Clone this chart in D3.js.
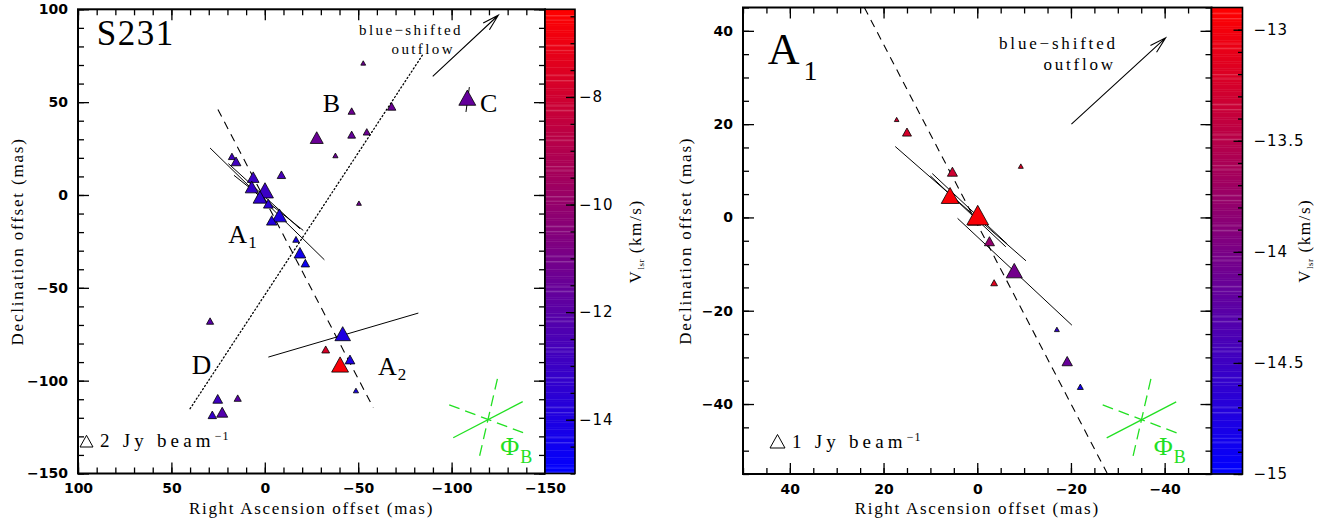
<!DOCTYPE html>
<html>
<head>
<meta charset="utf-8">
<script src="https://cdn.jsdelivr.net/npm/d3@7"></script>
<style>
  body { margin: 0; background: #fff; }
  svg { display: block; }
</style>
</head>
<body>
<svg id="chart" width="1337" height="526"></svg>
<script>
// ---------- S231 field: maser spots (offsets in mas, Vlsr in km/s, peak flux in Jy/beam) ----------
const s231Ra   = [-27.8,-37.8,17.6,15.4,-8.9,6.2,7.0,-0.1,2.6,-1.9,-7.8,-3.7,-16.7,-18.8,-21.7,-46.5,-54.6,-50.4,-52.7,-46.5,-67.9,-108.4,29.3,-41.7,-32.6,-40.3,-45.6,-48.8,25.2,14.5,28.1,22.8];
const s231Dec  = [30.9,21.3,20.8,18.1,10.9,9.6,4.3,2.5,-1.1,-4.7,-11.0,-13.7,-23.9,-31.1,-36.7,32.5,34.0,-4.4,71.1,45.2,47.7,52.4,-67.9,-74.7,-83.2,-91.3,-88.6,-105.3,-109.8,-109.4,-118.4,-117.0];
const s231Vel  = [-11.4,-11.4,-12.8,-12.8,-12.6,-13.0,-13.2,-13.0,-13.4,-13.6,-14.0,-13.8,-14.3,-14.4,-14.6,-11.6,-11.3,-11.2,-11.3,-11.3,-11.4,-11.6,-12.0,-14.0,-7.7,-6.6,-14.0,-14.2,-12.9,-12.0,-13.2,-12.2];
const s231Flux = [2.0,0.8,1.1,1.5,1.3,1.8,2.0,2.6,2.1,1.5,2.2,1.6,1.0,1.8,1.3,1.2,1.1,0.75,0.75,1.1,1.3,2.6,1.1,2.4,1.2,2.6,1.5,0.8,1.5,1.1,1.3,1.7];

// fitted lines and guides in the S231 field ([ra, dec] end points)
const s231Dashed = [[25.1, 46.1], [-58.1, -114.6]];
const s231Dotted = [[40.0, -115.1], [-84.9, 76.1]];
const s231Fits = [
  [[29.3, 25.3], [-31.9, -34.9]],
  [[19.5, 16.9], [-18.8, -18.2]],
  [[16.5, 10.6], [-20.6, -19.1]],
  [[-1.9, -87.3], [-82.2, -63.6]],
  [[-109.5, 58.1], [-107.7, 44.7]]
];
const s231Arrow = [[-89.9, 63.9], [-125.0, 96.8]];
const s231Beam  = [-119.6, -120.8];

// ---------- A1 close-up ----------
const a1Ra   = [17.2,15.0,5.3,-9.3,5.8,0.6,-0.1,-2.6,-7.9,-3.6,-17.0,-19.2,-22.0];
const a1Dec  = [21.0,18.3,9.8,11.0,4.7,-0.4,0.5,-5.1,-11.4,-14.0,-24.0,-30.8,-36.3];
const a1Vel  = [-13.3,-13.25,-13.3,-13.2,-12.95,-13.0,-12.95,-13.8,-14.05,-13.15,-14.6,-14.15,-14.85];
const a1Flux = [0.31,0.6,0.67,0.33,1.18,0.87,1.45,0.67,1.07,0.45,0.33,0.69,0.4];

const a1Dashed = [[24.1, 45.0], [-27.7, -54.8]];
const a1Fits = [
  [[17.5, 15.2], [-10.4, -9.3]],
  [[10.0, 8.9], [-6.1, -6.3]],
  [[9.6, 9.4], [-6.4, -5.7]],
  [[4.2, -0.2], [-20.2, -23.1]]
];
const a1Arrow = [[-20.1, 20.0], [-40.2, 38.5]];
const a1Beam  = [-35.1, -43.3];

// ---------- tick values ----------
const s231Ticks   = [100, 50, 0, -50, -100, -150];
const a1Ticks     = [40, 20, 0, -20, -40];
const s231CbTicks = [-8, -10, -12, -14];
const a1CbTicks   = [-13, -13.5, -14, -14.5, -15];

// ---------- drawing ----------
const svg = d3.select("#chart");
const defs = svg.append("defs");
const SERIF = "'Liberation Serif','Times New Roman',serif";
const SANS = "'DejaVu Sans',sans-serif";
const GREEN = "#22e022";
const fmt = d3.format("");

function drawPanel(o) {
  const { id, x, y, v, col, size } = o;
  const [px0, px1] = x.range(), [py0, py1] = y.range();

  defs.append("clipPath").attr("id", "clip-" + id)
    .append("rect").attr("x", px0).attr("y", py0).attr("width", px1 - px0).attr("height", py1 - py0);
  const plot = svg.append("g").attr("clip-path", `url(#clip-${id})`);

  const seg = (s, dash, w) => plot.append("line")
    .attr("x1", x(s[0][0])).attr("y1", y(s[0][1]))
    .attr("x2", x(s[1][0])).attr("y2", y(s[1][1]))
    .attr("stroke", "#000").attr("stroke-width", w || 1)
    .attr("stroke-dasharray", dash || null);

  if (o.dotted) seg(o.dotted, "1.2,2.6", 1.3).attr("stroke-linecap", "round");
  seg(o.dashed, "8,6", 1.1);
  o.fits.forEach(f => seg(f, null, 1));

  // maser spots: filled triangles coloured by velocity, sized by flux
  plot.selectAll("path.spot").data(d3.range(o.ra.length)).join("path")
    .attr("class", "spot")
    .attr("d", i => {
      const w = size(o.flux[i]), h = 0.9 * w, cx = x(o.ra[i]), cy = y(o.dec[i]);
      return `M${cx},${cy - h / 2}L${cx + w / 2},${cy + h / 2}L${cx - w / 2},${cy + h / 2}Z`;
    })
    .attr("fill", i => col(o.vel[i]))
    .attr("stroke", "#000").attr("stroke-width", 0.8).attr("stroke-linejoin", "miter");

  // outflow arrow
  {
    const x1 = x(o.arrow[0][0]), y1 = y(o.arrow[0][1]);
    const x2 = x(o.arrow[1][0]), y2 = y(o.arrow[1][1]);
    const a = Math.atan2(y2 - y1, x2 - x1), L = 17, s = 0.27;
    plot.append("path")
      .attr("d", `M${x1},${y1}L${x2},${y2}M${x2 - L * Math.cos(a - s)},${y2 - L * Math.sin(a - s)}L${x2},${y2}L${x2 - L * Math.cos(a + s)},${y2 - L * Math.sin(a + s)}`)
      .attr("fill", "none").attr("stroke", "#000").attr("stroke-width", 1.1);
  }

  // magnetic field direction symbol
  {
    const cx = x(o.beam[0]), cy = y(o.beam[1]);
    const gb = plot.append("g").attr("stroke", GREEN).attr("stroke-width", 1.3).attr("fill", "none");
    gb.append("line").attr("x1", cx - 35).attr("y1", cy + 18.5).attr("x2", cx + 34.5).attr("y2", cy - 17.6);
    gb.append("line").attr("x1", cx - 39).attr("y1", cy - 14.5).attr("x2", cx + 39).attr("y2", cy + 15)
      .attr("stroke-dasharray", "11,6");
    gb.append("line").attr("x1", cx + 9.2).attr("y1", cy - 40.5).attr("x2", cx - 9.5).attr("y2", cy + 40.5)
      .attr("stroke-dasharray", "11,6");
    const t = svg.append("text").attr("x", cx + 12).attr("y", cy + 36)
      .attr("font-family", SERIF).attr("font-size", 26).attr("fill", GREEN).text("\u03A6");
    t.append("tspan").attr("dy", 8).attr("dx", 1).attr("font-size", 18).text("B");
  }

  // frame, ticks inside on all four sides
  const axisG = svg.append("g");
  const put = (axis, tr) => {
    const a = axisG.append("g").attr("transform", tr).call(axis);
    a.select(".domain").remove();
    a.selectAll("line").attr("stroke", "#000").attr("stroke-width", 1.3);
    a.selectAll("text").attr("font-family", SANS).attr("font-weight", "bold")
      .attr("font-size", 14).attr("fill", "#000");
    return a;
  };
  put(d3.axisBottom(x).tickValues(o.ticks).tickSize(-11).tickPadding(10).tickFormat(fmt), `translate(0,${py1})`);
  put(d3.axisBottom(x).tickValues(o.xMinor).tickSize(-6).tickFormat(""), `translate(0,${py1})`);
  put(d3.axisTop(x).tickValues(o.ticks).tickSize(-11).tickFormat(""), `translate(0,${py0})`);
  put(d3.axisTop(x).tickValues(o.xMinor).tickSize(-6).tickFormat(""), `translate(0,${py0})`);
  put(d3.axisLeft(y).tickValues(o.ticks).tickSize(-11).tickPadding(10).tickFormat(fmt), `translate(${px0},0)`);
  put(d3.axisLeft(y).tickValues(o.yMinor).tickSize(-6).tickFormat(""), `translate(${px0},0)`);
  put(d3.axisRight(y).tickValues(o.ticks).tickSize(-11).tickFormat(""), `translate(${px1},0)`);
  put(d3.axisRight(y).tickValues(o.yMinor).tickSize(-6).tickFormat(""), `translate(${px1},0)`);
  axisG.append("rect").attr("x", px0).attr("y", py0).attr("width", px1 - px0).attr("height", py1 - py0)
    .attr("fill", "none").attr("stroke", "#000").attr("stroke-width", 2);

  // colour bar
  const cbX = px1, cbW = o.cbWidth;
  const [vmin, vmax] = v.domain();
  const n = 200, step = (vmax - vmin) / n;
  const cb = svg.append("g");
  cb.selectAll("rect.band").data(d3.range(n)).join("rect")
    .attr("class", "band")
    .attr("x", cbX).attr("width", cbW)
    .attr("y", i => v(vmin + (i + 1) * step))
    .attr("height", i => v(vmin + i * step) - v(vmin + (i + 1) * step) + 0.4)
    .attr("fill", i => col(vmin + (i + 0.5) * step));
  // faint raster streaks in the bar
  cb.selectAll("rect.streak").data(d3.range(n).filter(i => (i * 7) % 13 < 2)).join("rect")
    .attr("class", "streak")
    .attr("x", cbX).attr("width", cbW)
    .attr("y", i => v(vmin + (i + 0.5) * step)).attr("height", 0.7)
    .attr("fill", "#fff").attr("opacity", 0.28);
  cb.append("rect").attr("x", cbX).attr("y", py0).attr("width", cbW).attr("height", py1 - py0)
    .attr("fill", "none").attr("stroke", "#000").attr("stroke-width", 1.6);
  const cbAx = cb.append("g").attr("transform", `translate(${cbX + cbW},0)`)
    .call(d3.axisRight(v).tickValues(o.cbTicks).tickSize(-9).tickPadding(o.cbPad).tickFormat(fmt));
  cbAx.select(".domain").remove();
  cbAx.selectAll("line").attr("stroke", "#000").attr("stroke-width", 1.3);
  cbAx.selectAll("text").attr("font-family", SANS).attr("font-size", 15).attr("fill", "#000")
    .attr("letter-spacing", 1);
  const cbMin = cb.append("g").attr("transform", `translate(${cbX + cbW},0)`)
    .call(d3.axisRight(v).tickValues(o.cbMinor).tickSize(-4.5).tickFormat(""));
  cbMin.select(".domain").remove();
  cbMin.selectAll("line").attr("stroke", "#000").attr("stroke-width", 1.3);

  // colour bar title
  const ct = svg.append("text")
    .attr("transform", `translate(${o.cbTitleX},${(py0 + py1) / 2}) rotate(-90)`)
    .attr("text-anchor", "middle").attr("font-family", SERIF).attr("font-size", 17)
    .attr("letter-spacing", 1.6).attr("fill", "#000");
  ct.append("tspan").text("V");
  ct.append("tspan").attr("dy", 3).attr("font-size", 9).attr("letter-spacing", 0.5).text("lsr");
  ct.append("tspan").attr("dy", -3).text("\u00A0(km/s)");

  // axis titles
  svg.append("text").attr("x", (px0 + px1) / 2).attr("y", 514)
    .attr("text-anchor", "middle").attr("font-family", SERIF).attr("font-size", 17)
    .attr("letter-spacing", 1.7).attr("fill", "#000").text("Right Ascension offset (mas)");
  svg.append("text")
    .attr("transform", `translate(${o.yTitleX},${(py0 + py1) / 2}) rotate(-90)`)
    .attr("text-anchor", "middle").attr("font-family", SERIF).attr("font-size", 17)
    .attr("letter-spacing", 1.8).attr("fill", "#000").text("Declination offset (mas)");

  // flux legend
  {
    const w = size(o.legendFlux), h = 0.9 * w, lx = o.legend[0], ly = o.legend[1];
    svg.append("path")
      .attr("d", `M${lx + w / 2},${ly - h}L${lx + w},${ly}L${lx},${ly}Z`)
      .attr("fill", "none").attr("stroke", "#000").attr("stroke-width", 1);
    const lt = svg.append("text").attr("x", lx + w + 7).attr("y", ly)
      .attr("font-family", SERIF).attr("font-size", 19).attr("letter-spacing", 4.2).attr("fill", "#000")
      .text(`${o.legendFlux} Jy beam`);
    lt.append("tspan").attr("dy", -7).attr("font-size", 12).attr("letter-spacing", 1).text("\u22121");
  }
  return { x, y };
}

// ---------- left panel: S231 ----------
const xL = d3.scaleLinear().domain([100, -150]).range([78, 545]);
const yL = d3.scaleLinear().domain([100, -150]).range([9.3, 473.5]);
const vL = d3.scaleLinear().domain([-15, -6.37]).range([473.5, 9.3]);
const colL = d3.scaleLinear().domain([-15, -6.37]).range(["#0000ff", "#ff0000"]).interpolate(d3.interpolateRgb);
const sizeL = d3.scaleLinear().domain([0, 2]).range([0, 13]);

drawPanel({
  id: "s231", x: xL, y: yL, v: vL, col: colL, size: sizeL,
  ra: s231Ra, dec: s231Dec, vel: s231Vel, flux: s231Flux,
  dashed: s231Dashed, dotted: s231Dotted, fits: s231Fits, arrow: s231Arrow, beam: s231Beam,
  ticks: s231Ticks, xMinor: d3.range(100, -151, -10), yMinor: d3.range(100, -151, -10),
  cbTicks: s231CbTicks, cbMinor: d3.range(-15, -6.4, 0.5), cbWidth: 30, cbPad: 4,
  cbTitleX: 641, yTitleX: 23, legend: [80, 447], legendFlux: 2
});

// labels in the S231 field
{
  const lab = (ra, dec, size, txt, sub, subSize) => {
    const t = svg.append("text").attr("x", xL(ra)).attr("y", yL(dec))
      .attr("font-family", SERIF).attr("font-size", size).attr("fill", "#000").text(txt);
    if (sub) t.append("tspan").attr("dy", size * 0.18).attr("dx", 1).attr("font-size", subSize).text(sub);
    return t;
  };
  lab(90.0, 80.8, 35, "S231").attr("letter-spacing", 1.5);
  lab(-31.0, 44.9, 26, "B");
  lab(-115.2, 44.7, 26, "C");
  lab(19.5, -26.0, 26, "A", "1", 17);
  lab(39.1, -96.4, 27, "D");
  lab(-60.6, -97.0, 26, "A", "2", 17);
  lab(-106.1, 86.2, 15, "blue\u2212shifted").attr("text-anchor", "end").attr("letter-spacing", 2.4);
  lab(-101.8, 76.1, 15, "outflow").attr("text-anchor", "end").attr("letter-spacing", 2.4);
}

// ---------- right panel: A1 ----------
const xR = d3.scaleLinear().domain([50, -50]).range([743, 1211.5]);
const yR = d3.scaleLinear().domain([45, -55]).range([7.5, 474]);
const vR = d3.scaleLinear().domain([-15, -12.9]).range([474, 7.5]);
const colR = d3.scaleLinear().domain([-15, -12.9]).range(["#0000ff", "#ff0000"]).interpolate(d3.interpolateRgb);
const sizeR = d3.scaleLinear().domain([0, 1]).range([0, 15]);

drawPanel({
  id: "a1", x: xR, y: yR, v: vR, col: colR, size: sizeR,
  ra: a1Ra, dec: a1Dec, vel: a1Vel, flux: a1Flux,
  dashed: a1Dashed, dotted: null, fits: a1Fits, arrow: a1Arrow, beam: a1Beam,
  ticks: a1Ticks, xMinor: d3.range(50, -51, -5), yMinor: d3.range(45, -56, -5),
  cbTicks: a1CbTicks, cbMinor: d3.range(-15, -12.9, 0.1), cbWidth: 31, cbPad: 11,
  cbTitleX: 1310, yTitleX: 691, legend: [770, 448], legendFlux: 1
});

{
  const t = svg.append("text").attr("x", xR(44.7)).attr("y", yR(32.9))
    .attr("font-family", SERIF).attr("font-size", 44).attr("fill", "#000").text("A");
  t.append("tspan").attr("dx", 4).attr("dy", 16).attr("font-size", 28).text("1");
  svg.append("text").attr("x", xR(-30.0)).attr("y", yR(36.1)).attr("text-anchor", "end")
    .attr("font-family", SERIF).attr("font-size", 17).attr("letter-spacing", 2.8).attr("fill", "#000")
    .text("blue\u2212shifted");
  svg.append("text").attr("x", xR(-29.6)).attr("y", yR(31.6)).attr("text-anchor", "end")
    .attr("font-family", SERIF).attr("font-size", 17).attr("letter-spacing", 2.8).attr("fill", "#000")
    .text("outflow");
}
</script>
</body>
</html>
